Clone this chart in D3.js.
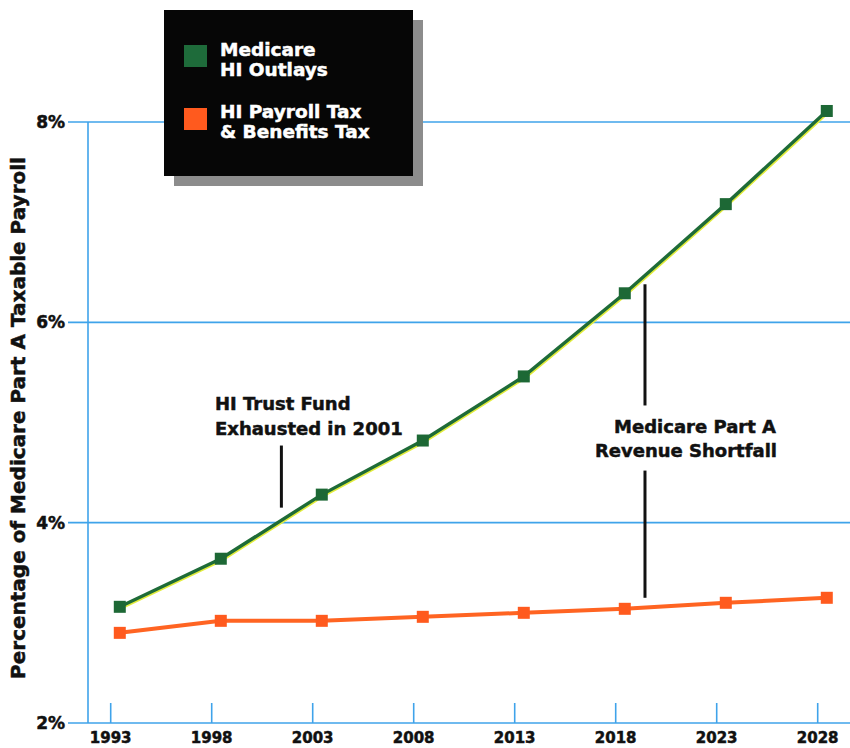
<!DOCTYPE html>
<html>
<head>
<meta charset="utf-8">
<script src="https://cdn.jsdelivr.net/npm/d3@7"></script>
<style>
  body { margin:0; background:#fff; }
  text { font-family:"DejaVu Sans", sans-serif; font-weight:bold; fill:#111; stroke:#111; stroke-width:0.5px; }
  .light text { fill:#fff; stroke:#fff; }
</style>
</head>
<body>
<div id="chart"></div>
<script>
// data
var years   = [1993, 1998, 2003, 2008, 2013, 2018, 2023, 2028];
var outlays = [3.16, 3.64, 4.28, 4.82, 5.46, 6.29, 7.18, 8.11];
var taxes   = [2.90, 3.02, 3.02, 3.06, 3.10, 3.14, 3.20, 3.25];
var yTicks  = [2, 4, 6, 8];
var legendLabels = [["Medicare", "HI Outlays"], ["HI Payroll Tax", "& Benefits Tax"]];
var yTitle = "Percentage of Medicare Part A Taxable Payroll";
var trustYear = 2001, shortfallYear = 2019;

var outerWidth = 850, outerHeight = 748;
var midYear = 0.45; // points sit mid-year, ticks at year start

var svg = d3.select("#chart").append("svg")
            .attr("width", outerWidth)
            .attr("height", outerHeight);

var x_scale = d3.scaleLinear().domain([1993, 2028]).range([110.7, 817.7]);
var y_scale = d3.scaleLinear().domain([2, 8]).range([723, 122]);

var grid = "#3fa3ea";

// horizontal gridlines
svg.selectAll(".grid")
   .data(yTicks)
   .enter()
   .append("line")
   .attr("x1", 68).attr("x2", outerWidth)
   .attr("y1", function(d){return y_scale(d)})
   .attr("y2", function(d){return y_scale(d)})
   .attr("stroke", grid).attr("stroke-width", 1.6)

// vertical axis line
svg.append("line")
   .attr("x1", 88).attr("x2", 88)
   .attr("y1", y_scale(8)).attr("y2", y_scale(2))
   .attr("stroke", grid).attr("stroke-width", 1.6)

// y tick labels
svg.selectAll(".ylab")
   .data(yTicks)
   .enter()
   .append("text")
   .attr("x", 65)
   .attr("y", function(d){return y_scale(d)})
   .attr("dy", "0.36em")
   .attr("text-anchor", "end")
   .style("font-size", "17px")
   .text(function(d){return d + "%"})

// x ticks + labels
svg.selectAll(".xtick")
   .data(years)
   .enter()
   .append("line")
   .attr("x1", function(d){return x_scale(d)})
   .attr("x2", function(d){return x_scale(d)})
   .attr("y1", y_scale(2) - 20)
   .attr("y2", y_scale(2))
   .attr("stroke", grid).attr("stroke-width", 1.6)

svg.selectAll(".xlab")
   .data(years)
   .enter()
   .append("text")
   .attr("x", function(d){return x_scale(d)})
   .attr("y", 743)
   .attr("text-anchor", "middle")
   .style("font-size", "15px")
   .text(function(d){return d})

// y title
svg.append("text")
   .attr("transform", "translate(25,418) rotate(-90)")
   .attr("text-anchor", "middle")
   .style("font-size", "20px")
   .text(yTitle)

// lines
var outData = years.map(function(y, i){return {year:y, v:outlays[i]}});
var taxData = years.map(function(y, i){return {year:y, v:taxes[i]}});

var line = d3.line()
             .x(function(d){return x_scale(d.year + midYear)})
             .y(function(d){return y_scale(d.v)})

svg.append("path").datum(taxData)
   .attr("d", line).attr("fill", "none")
   .attr("stroke", "#ff6422").attr("stroke-width", 4)

svg.selectAll(".tmark").data(taxData).enter()
   .append("rect")
   .attr("x", function(d){return x_scale(d.year + midYear) - 6})
   .attr("y", function(d){return y_scale(d.v) - 6})
   .attr("width", 12).attr("height", 12)
   .attr("fill", "#ff5a1e")

// yellow misregistration edge under the green line
svg.append("path").datum(outData)
   .attr("d", line).attr("fill", "none")
   .attr("transform", "translate(1,1.2)")
   .attr("stroke", "#e2ec3c").attr("stroke-width", 3.4)

svg.append("path").datum(outData)
   .attr("d", line).attr("fill", "none")
   .attr("stroke", "#1e6b38").attr("stroke-width", 3.4)

svg.selectAll(".omark").data(outData).enter()
   .append("rect")
   .attr("x", function(d){return x_scale(d.year + midYear) - 6})
   .attr("y", function(d){return y_scale(d.v) - 6})
   .attr("width", 12).attr("height", 12)
   .attr("fill", "#1d6835")

// annotations
var ann = svg.append("g").style("font-size", "18px")
ann.append("text").attr("x", 215).attr("y", 410).text("HI Trust Fund")
ann.append("text").attr("x", 215).attr("y", 435).text("Exhausted in 2001")
ann.append("line")
   .attr("x1", x_scale(trustYear + midYear)).attr("x2", x_scale(trustYear + midYear))
   .attr("y1", y_scale(4.77)).attr("y2", y_scale(4.15))
   .attr("stroke", "#111").attr("stroke-width", 3)

var sx = x_scale(shortfallYear + midYear);
ann.append("text").attr("x", 776).attr("y", 433).attr("text-anchor", "end").text("Medicare Part A")
ann.append("text").attr("x", 777).attr("y", 457).attr("text-anchor", "end").text("Revenue Shortfall")
ann.append("line")
   .attr("x1", sx).attr("x2", sx)
   .attr("y1", y_scale(6.38)).attr("y2", y_scale(5.17))
   .attr("stroke", "#111").attr("stroke-width", 3)
ann.append("line")
   .attr("x1", sx).attr("x2", sx)
   .attr("y1", y_scale(4.52)).attr("y2", y_scale(3.25))
   .attr("stroke", "#111").attr("stroke-width", 3)

// legend box with drop shadow
var lg = svg.append("g").attr("class", "light").attr("transform", "translate(164,10)")
lg.append("rect").attr("x", 10).attr("y", 10).attr("width", 249).attr("height", 166).attr("fill", "#8c8c8c")
lg.append("rect").attr("width", 249).attr("height", 166).attr("fill", "#060606")

var swatch = ["#1e6b3a", "#ff5a1e"];
legendLabels.forEach(function(lbl, i){
  lg.append("rect")
    .attr("x", 20).attr("y", 35 + i * 63)
    .attr("width", 23).attr("height", 22)
    .attr("fill", swatch[i])
  lbl.forEach(function(t, j){
    lg.append("text")
      .attr("x", 56).attr("y", 46 + i * 62 + j * 20)
      .style("font-size", "18.5px")
      .text(t)
  })
})
</script>
</body>
</html>
